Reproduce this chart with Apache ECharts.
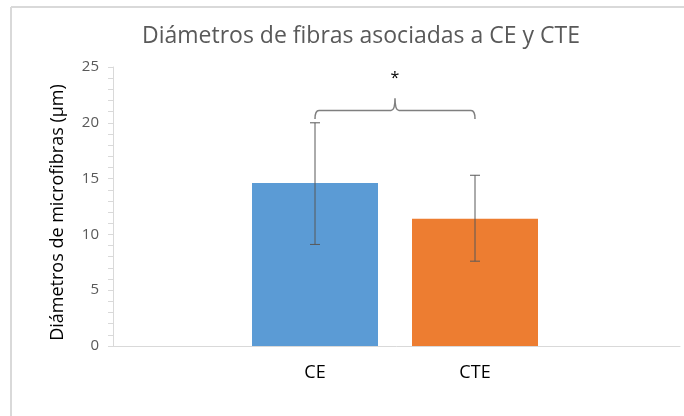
<!DOCTYPE html>
<html lang="es">
<head>
<meta charset="UTF-8">
<title>Diámetros de fibras</title>
<script src="https://cdn.jsdelivr.net/npm/echarts@6/dist/echarts.min.js"></script>
<style>html,body{margin:0;padding:0;background:#fff}</style>
</head>
<body>
<div id="main" style="width:684px;height:416px;"></div>
<script>
    // datos
    const groups = ['CE', 'CTE'];
    const means = [14.6, 11.4];
    const errLow = [9.1, 7.6];
    const errHigh = [20.0, 15.3];
    const barColors = ['#5b9bd5', '#ed7d31'];
    // llave de significancia: [base, linea, pico, asterisco]
    const bracket = [20.35, 21.1, 22.2, 24.0];

    const font = 'Open Sans';
    let myChart = echarts.init(document.getElementById('main'));

    let option = {
        animation: false,
        backgroundColor: '#fff',
        title: {
            text: 'Diámetros de fibras asociadas a CE y CTE',
            left: 137,
            top: 20,
            textStyle: {fontFamily: font, fontSize: 23, fontWeight: 'normal', color: '#595959'}
        },
        graphic: [
            {type: 'line', shape: {x1: 11, y1: 7, x2: 684, y2: 7}, style: {stroke: '#d9d9d9', lineWidth: 2}},
            {type: 'line', shape: {x1: 11, y1: 7, x2: 11, y2: 416}, style: {stroke: '#d9d9d9', lineWidth: 2}}
        ],
        grid: [
            {left: 113, right: 4, top: 67, bottom: 70},
            {left: 235, width: 320, top: 67, bottom: 70}
        ],
        xAxis: [
            {
                gridIndex: 0, type: 'category', data: [''],
                axisLine: {lineStyle: {color: '#d9d9d9'}},
                axisTick: {show: false}, axisLabel: {show: false}
            },
            {
                gridIndex: 1, type: 'category', data: groups,
                axisLine: {show: false}, axisTick: {show: false},
                axisLabel: {margin: 18, fontSize: 18, color: '#000', fontFamily: font}
            }
        ],
        yAxis: [
            {
                gridIndex: 0, type: 'value', min: 0, max: 25, interval: 5,
                name: 'Diámetros de microfibras (µm)',
                nameLocation: 'middle', nameGap: 46,
                nameTextStyle: {fontSize: 18, color: '#000', fontFamily: font, padding: [0, 12, 0, 0]},
                axisLine: {show: true, lineStyle: {color: '#d9d9d9'}},
                axisTick: {show: true, length: 5, lineStyle: {color: '#d9d9d9'}},
                minorTick: {show: true, splitNumber: 5, length: 5, lineStyle: {color: '#d9d9d9'}},
                splitLine: {show: false},
                axisLabel: {color: '#595959', fontSize: 15, margin: 14, fontFamily: font}
            },
            {gridIndex: 1, type: 'value', min: 0, max: 25, interval: 5, show: false}
        ],
        series: [
            {
                type: 'bar', xAxisIndex: 1, yAxisIndex: 1, barWidth: 126,
                data: means.map((v, i) => ({value: v, itemStyle: {color: barColors[i]}}))
            },
            {
                type: 'custom', xAxisIndex: 1, yAxisIndex: 1, z: 5,
                data: groups.map((g, i) => [i, errLow[i], errHigh[i]]),
                renderItem: function (params, api) {
                    let lo = api.coord([api.value(0), api.value(1)]);
                    let hi = api.coord([api.value(0), api.value(2)]);
                    let w = 5;
                    let st = {stroke: '#595959', lineWidth: 1};
                    return {
                        type: 'group',
                        children: [
                            {type: 'line', shape: {x1: lo[0], y1: lo[1], x2: hi[0], y2: hi[1]}, style: st},
                            {type: 'line', shape: {x1: lo[0] - w, y1: lo[1], x2: lo[0] + w, y2: lo[1]}, style: st},
                            {type: 'line', shape: {x1: hi[0] - w, y1: hi[1], x2: hi[0] + w, y2: hi[1]}, style: st}
                        ]
                    };
                }
            },
            {
                type: 'custom', xAxisIndex: 1, yAxisIndex: 1, z: 5,
                data: [[0, 1]],
                renderItem: function (params, api) {
                    let a = api.coord([0, bracket[1]]);
                    let b = api.coord([1, bracket[1]]);
                    let yb = api.coord([0, bracket[0]])[1];
                    let yh = a[1];
                    let yp = api.coord([0, bracket[2]])[1];
                    let ys = api.coord([0, bracket[3]])[1];
                    let xm = (a[0] + b[0]) / 2;
                    let r = 4;
                    let d = 'M' + a[0] + ',' + yb +
                        ' Q' + a[0] + ',' + yh + ' ' + (a[0] + r) + ',' + yh +
                        ' L' + (xm - r) + ',' + yh +
                        ' Q' + xm + ',' + yh + ' ' + xm + ',' + yp +
                        ' Q' + xm + ',' + yh + ' ' + (xm + r) + ',' + yh +
                        ' L' + (b[0] - r) + ',' + yh +
                        ' Q' + b[0] + ',' + yh + ' ' + b[0] + ',' + yb;
                    return {
                        type: 'group',
                        children: [
                            {type: 'path', shape: {pathData: d}, style: {fill: null, stroke: '#7f7f7f', lineWidth: 1.5}},
                            {type: 'text', x: xm, y: ys, style: {text: '*', fontSize: 16, fontFamily: font, fill: '#000', align: 'center', verticalAlign: 'middle'}}
                        ]
                    };
                }
            }
        ]
    };
    myChart.setOption(option);
</script>
</body>
</html>
